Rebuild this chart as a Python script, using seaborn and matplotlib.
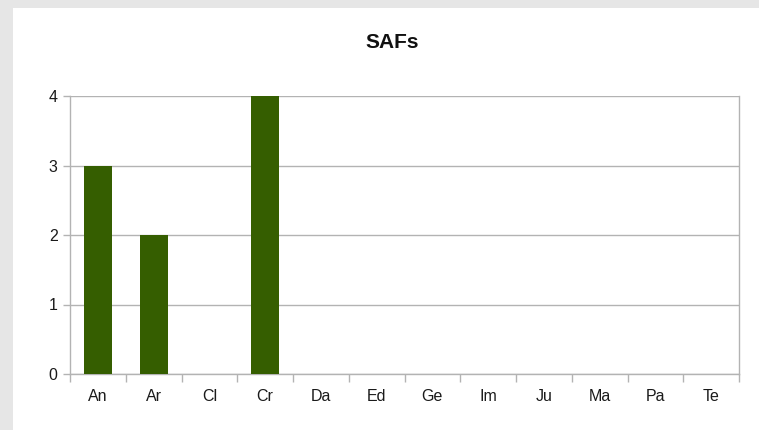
import numpy as np
import pandas as pd
import seaborn as sns
import matplotlib.pyplot as plt
from matplotlib.patches import Rectangle

categories = ["An", "Ar", "Cl", "Cr", "Da", "Ed", "Ge", "Im", "Ju", "Ma", "Pa", "Te"]
values = [3, 2, 0, 4, 0, 0, 0, 0, 0, 0, 0, 0]
title = "SAFs"

W, H = 759, 430
grid_col = "#b3b3b3"
bar_col = "#355e00"

sns.set_theme(style="white")
plt.rcParams["font.family"] = ["Liberation Sans", "DejaVu Sans"]

fig = plt.figure(figsize=(W / 100, H / 100), dpi=100, facecolor="#e6e6e6")
# white chart panel, grey margin on the left and top
fig.patches.append(Rectangle((13 / W, 0), 1 - 13 / W, 1 - 8 / H,
                             transform=fig.transFigure, facecolor="white",
                             edgecolor="none", zorder=-5))

ax = fig.add_axes([70 / W, 1 - 374 / H, (739 - 70) / W, (374 - 96) / H])
ax.set_facecolor("white")

df = pd.DataFrame({"cat": categories, "val": values})
sns.barplot(data=df, x="cat", y="val", color=bar_col, width=0.5,
            saturation=1, linewidth=0, ax=ax, zorder=3)

ax.set_xlim(-0.5, len(categories) - 0.5)
ax.set_ylim(0, 4)
ax.set_yticks(range(0, 5))
ax.yaxis.grid(True, color=grid_col, lw=1)
ax.set_axisbelow(True)

ax.set_xticks(np.arange(len(categories) + 1) - 0.5, minor=True)
ax.tick_params(axis="x", which="major", bottom=False, length=0, pad=11,
               labelsize=11.5, labelcolor="#1a1a1a")
ax.tick_params(axis="x", which="minor", bottom=True, length=6, width=1,
               color=grid_col, direction="out")
ax.tick_params(axis="y", length=5, width=1, color=grid_col, direction="out",
               pad=4, labelsize=11.5, labelcolor="#1a1a1a", left=True)

for side in ["left", "right", "bottom"]:
    ax.spines[side].set_visible(True)
    ax.spines[side].set_color(grid_col)
    ax.spines[side].set_linewidth(1)
ax.spines["top"].set_visible(False)

ax.set_xlabel("")
ax.set_ylabel("")

fig.text(392 / W, 1 - 42 / H, title, ha="center", va="center",
         fontsize=15, fontweight="bold", color="#111111")

fig.savefig("out.png", dpi=100, facecolor=fig.get_facecolor())
